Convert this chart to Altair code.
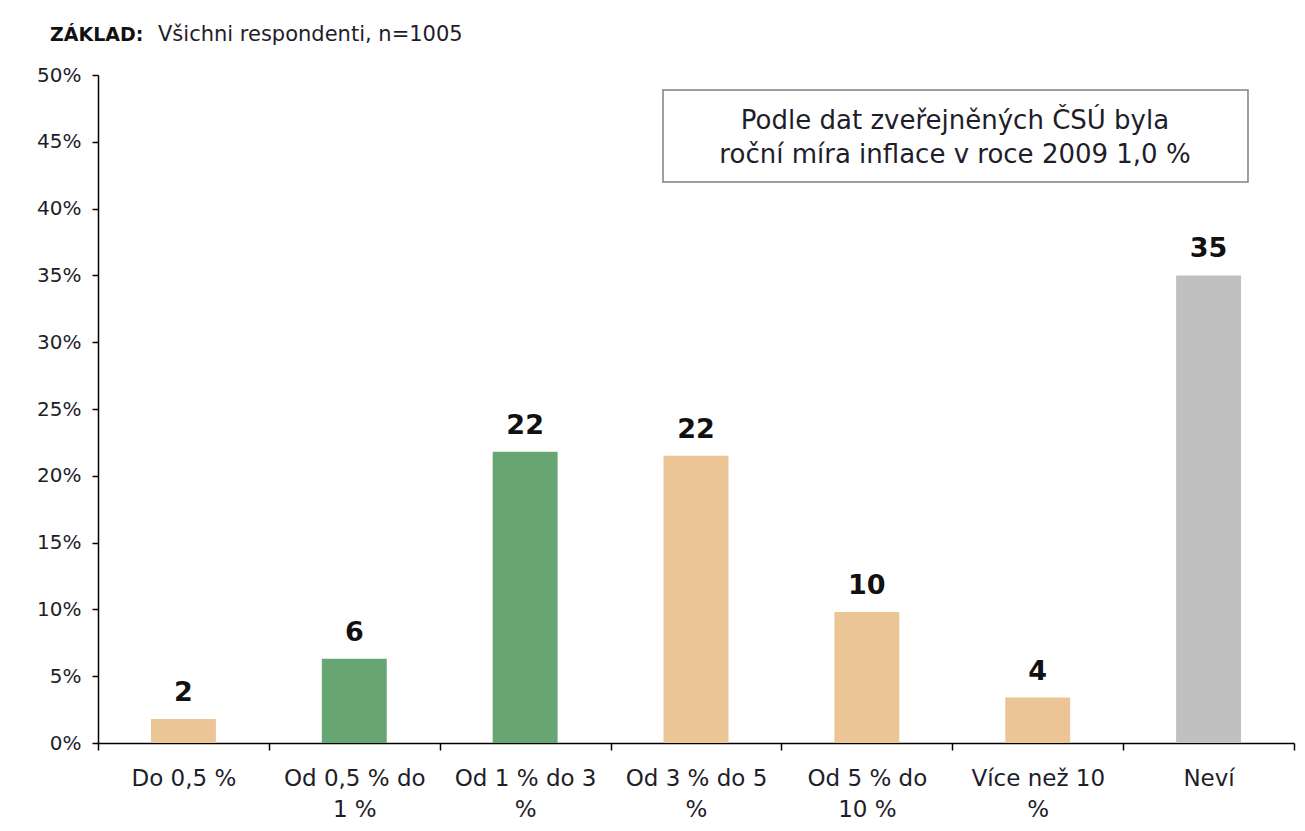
import altair as alt
import pandas as pd

categories = ["Do 0,5 %", "Od 0,5 % do 1 %", "Od 1 % do 3 %", "Od 3 % do 5 %",
              "Od 5 % do 10 %", "Více než 10 %", "Neví"]
tick_lines = [["Do 0,5 %"], ["Od 0,5 % do", "1 %"], ["Od 1 % do 3", "%"],
              ["Od 3 % do 5", "%"], ["Od 5 % do", "10 %"], ["Více než 10", "%"], ["Neví"]]
values = [1.8, 6.3, 21.8, 21.5, 9.8, 3.4, 35.0]
value_labels = ["2", "6", "22", "22", "10", "4", "35"]
bar_colors = ["#EBC595", "#67A673", "#67A673", "#EBC595", "#EBC595", "#EBC595", "#C0C0C0"]
y_ticks = [0, 5, 10, 15, 20, 25, 30, 35, 40, 45, 50]
note_lines = ["Podle dat zveřejněných ČSÚ byla", "roční míra inflace v roce 2009 1,0 %"]
base_bold = "ZÁKLAD:"
base_text = "Všichni respondenti, n=1005"

df = pd.DataFrame({"cat": categories, "val": values, "lab": value_labels, "col": bar_colors})

FONT = "DejaVu Sans"
W, H = 1196, 668

label_map = "{" + ",".join(
    "'" + c + "':[" + ",".join("'" + s + "'" for s in lines) + "]"
    for c, lines in zip(categories, tick_lines)
) + "}[datum.label]"

x_enc = alt.X("cat:N", sort=categories, title=None,
              scale=alt.Scale(paddingInner=0, paddingOuter=0),
              axis=alt.Axis(tickBand="extent", labelAngle=0, labelExpr=label_map,
                            labelFont=FONT, labelFontSize=23, labelColor="#1e1e2a",
                            labelLineHeight=31, labelPadding=17, labelBaseline="top",
                            domainColor="#000000", domainWidth=1.5,
                            tickColor="#000000", tickWidth=1.5, tickSize=7))

y_enc = alt.Y("val:Q", title=None,
              scale=alt.Scale(domain=[0, 50], nice=False),
              axis=alt.Axis(values=y_ticks, labelExpr="datum.value + '%'",
                            labelFont=FONT, labelFontSize=20, labelColor="#1e1e2a",
                            labelPadding=11, grid=False,
                            domainColor="#000000", domainWidth=1.5,
                            tickColor="#000000", tickWidth=1.5, tickSize=6))

bars = alt.Chart(df).mark_bar(width=alt.RelativeBandSize(0.38)).encode(
    x=x_enc, y=y_enc, color=alt.Color("col:N", scale=None))

texts = alt.Chart(df).mark_text(font=FONT, fontSize=27, fontWeight="bold",
                                baseline="alphabetic", dy=-18, color="#111111").encode(
    x=alt.X("cat:N", sort=categories), y="val:Q", text="lab:N")

one = pd.DataFrame({"a": [0]})
box = alt.Chart(one).mark_rect(fill="white", stroke="#808080", strokeWidth=1.5).encode(
    x=alt.value(565), x2=alt.value(1150), y=alt.value(15), y2=alt.value(107))
note1 = alt.Chart(one).mark_text(font=FONT, fontSize=26, baseline="middle",
                                 align="center", color="#1e1e2a").encode(
    x=alt.value(857), y=alt.value(46), text=alt.value(note_lines[0]))
note2 = alt.Chart(one).mark_text(font=FONT, fontSize=26, baseline="middle",
                                 align="center", color="#1e1e2a").encode(
    x=alt.value(857), y=alt.value(80), text=alt.value(note_lines[1]))
hdr1 = alt.Chart(one).mark_text(font=FONT, fontSize=19, fontWeight="bold", align="left",
                                baseline="middle", color="#111111").encode(
    x=alt.value(-48), y=alt.value(-40), text=alt.value(base_bold))
hdr2 = alt.Chart(one).mark_text(font=FONT, fontSize=21, align="left",
                                baseline="middle", color="#1e1e2a").encode(
    x=alt.value(60), y=alt.value(-40), text=alt.value(base_text))

chart = alt.layer(bars, texts, box, note1, note2, hdr1, hdr2).properties(
    width=W, height=H, autosize="none",
    padding={"left": 90, "top": 67, "right": 2, "bottom": 78},
    background="white",
).configure_view(stroke=None)

chart.save("out.html", embed_options={"renderer": "svg", "actions": False})
